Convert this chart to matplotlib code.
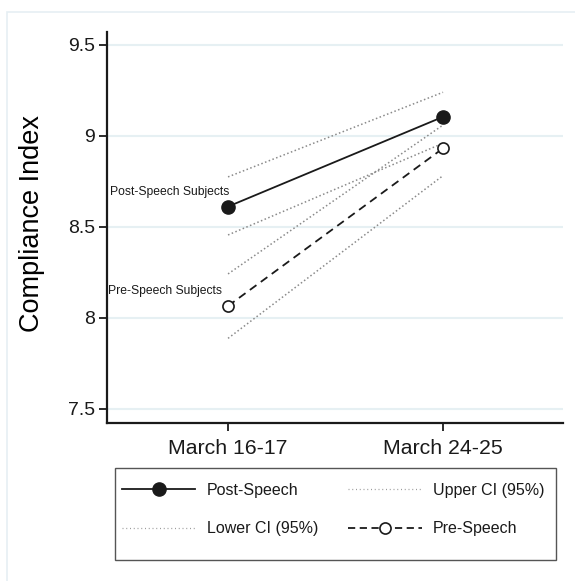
"""Compliance index before and after the speech, with 95% CIs."""

import matplotlib
matplotlib.use('Agg')
import matplotlib.pyplot as plt
from matplotlib.lines import Line2D
from matplotlib.patches import Rectangle

periods = ["March 16-17", "March 24-25"]
post_speech = [8.612, 9.105]
pre_speech = [8.066, 8.932]
post_upper = [8.775, 9.240]
post_lower = [8.456, 8.960]
pre_upper = [8.242, 9.060]
pre_lower = [7.888, 8.782]
yticks = [7.5, 8, 8.5, 9, 9.5]

plt.rcParams['font.family'] = ['Liberation Sans', 'DejaVu Sans']

W, H = 575, 581
fig = plt.figure(figsize=(W / 100, H / 100), dpi=100)

# faint outer frame, cut off at right and bottom like the source
fig.patches.append(Rectangle((7 / W, -0.1), 1.2, 1 - 12 / H + 0.1,
                             transform=fig.transFigure, fill=False,
                             edgecolor='#e6eff3', linewidth=1.2))

ax = fig.add_axes([107 / W, 1 - 423 / H, (563 - 107) / W, (423 - 32) / H])
xs = [1, 2]
ci_style = dict(color='#8a8a8a', linestyle=(0, (1, 1.6)), linewidth=1.1)

for lo, hi in [(post_lower, post_upper), (pre_lower, pre_upper)]:
    ax.plot(xs, hi, **ci_style)
    ax.plot(xs, lo, **ci_style)

ax.plot(xs, post_speech, color='#1a1a1a', linewidth=1.3, marker='o',
        markersize=9.5, markerfacecolor='#1a1a1a', markeredgecolor='#1a1a1a')
ax.plot(xs, pre_speech, color='#1a1a1a', linewidth=1.3,
        linestyle=(0, (4.5, 3)), marker='o', markersize=8,
        markerfacecolor='white', markeredgecolor='#1a1a1a',
        markeredgewidth=1.2)

ax.annotate('Post-Speech Subjects', (xs[0], post_speech[0]),
            xytext=(1, 6.5), textcoords='offset points',
            ha='right', va='bottom', fontsize=8.7, color='#1a1a1a')
ax.annotate('Pre-Speech Subjects', (xs[0], pre_speech[0]),
            xytext=(-4.5, 6.5), textcoords='offset points',
            ha='right', va='bottom', fontsize=8.7, color='#1a1a1a')

ax.set_xlim(0.437, 2.558)
ax.set_ylim(7.423, 9.571)
ax.set_xticks(xs)
ax.set_xticklabels(periods, fontsize=15.3)
ax.set_yticks(yticks)
ax.set_yticklabels(['%g' % v for v in yticks], fontsize=14)
ax.set_ylabel('Compliance Index', fontsize=19.5)
ax.yaxis.set_label_coords(-0.136, 0.509)

for y in yticks:
    ax.axhline(y, color='#e6f0f3', linewidth=1.5, zorder=0)

for side in ['top', 'right']:
    ax.spines[side].set_visible(False)
for side in ['left', 'bottom']:
    ax.spines[side].set_linewidth(1.6)
    ax.spines[side].set_color('#1a1a1a')
ax.tick_params(length=5.5, width=1.3, color='#1a1a1a', labelcolor='#1a1a1a')
ax.tick_params(axis='y', pad=3)
ax.tick_params(axis='x', pad=6)

# legend box
fig.patches.append(Rectangle((115 / W, 1 - 560 / H), (556 - 115) / W,
                             (560 - 468) / H, transform=fig.transFigure,
                             fill=False, edgecolor='#555555', linewidth=1.0))

leg_ci = dict(color='#9a9a9a', linestyle=(0, (0.8, 2.2)), linewidth=0.9)
handles = [
    Line2D([], [], color='#1a1a1a', linewidth=1.3, marker='o',
           markersize=9.5, markerfacecolor='#1a1a1a'),
    Line2D([], [], **leg_ci),
    Line2D([], [], **leg_ci),
    Line2D([], [], color='#1a1a1a', linewidth=1.3, linestyle=(0, (4, 2.5)),
           marker='o', markersize=8, markerfacecolor='white',
           markeredgewidth=1.2),
]
labels = ['Post-Speech', 'Lower CI (95%)', 'Upper CI (95%)', 'Pre-Speech']
fig.legend(handles, labels, ncol=2, loc='upper left',
           bbox_to_anchor=(122 / W, 1 - 483 / H), frameon=False,
           fontsize=11.5, handlelength=4.6, handletextpad=0.7,
           columnspacing=1.9, labelspacing=1.45, borderpad=0,
           borderaxespad=0, labelcolor='#1a1a1a')

fig.savefig('out.png', dpi=100)
